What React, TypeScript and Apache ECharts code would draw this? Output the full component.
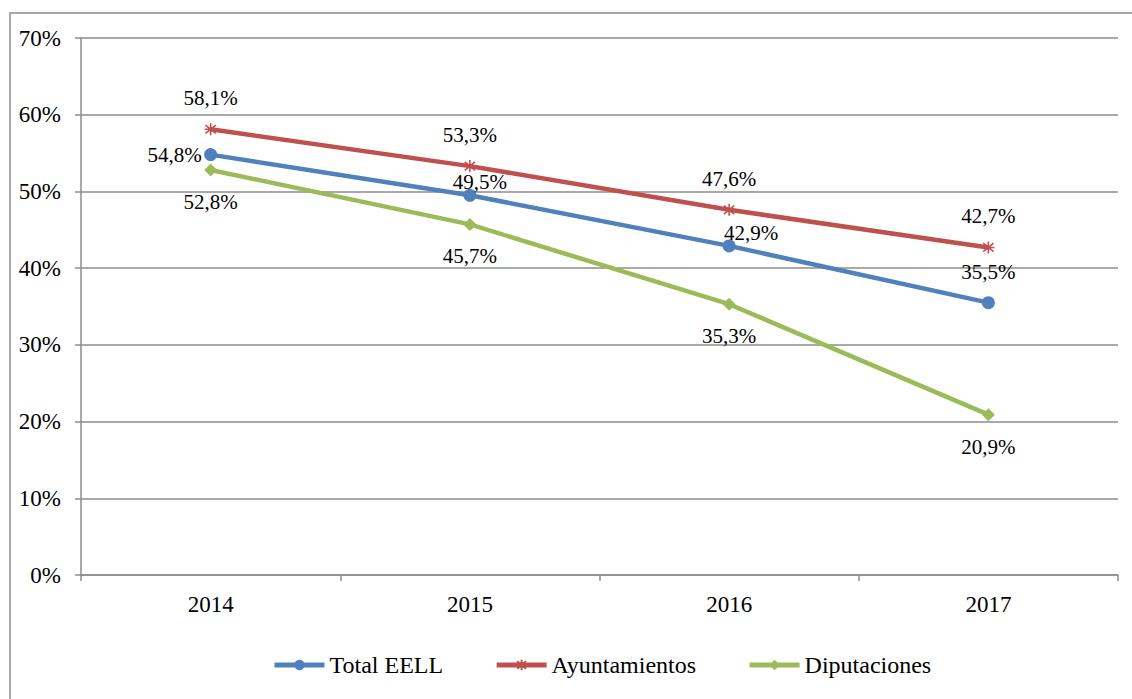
import React, { useEffect, useRef } from "react";
import * as echarts from "echarts";

const years = ["2014", "2015", "2016", "2017"];
const totalEELL = [54.8, 49.5, 42.9, 35.5];
const ayuntamientos = [58.1, 53.3, 47.6, 42.7];
const diputaciones = [52.8, 45.7, 35.3, 20.9];
const totalLabelOffsets = [[-36, 0], [10, -13], [22, -13], [0, -31]];

const FONT = "Liberation Serif";
const BLUE = "#4F81BD";
const RED = "#C0504D";
const GREEN = "#9BBB59";
const GRAY = "#8C8C8C";

const fmt = (v: number) => v.toFixed(1).replace(".", ",") + "%";

export default function App() {
  const ref = useRef<HTMLDivElement>(null);
  useEffect(() => {
    if (!ref.current) return;
    const chart = echarts.init(ref.current, undefined, { renderer: "svg" });
    const labelBase = {
      show: true,
      position: "inside" as const,
      color: "#000",
      fontFamily: FONT,
      fontSize: 21,
      formatter: (p: any) => fmt(p.value),
    };
    chart.setOption({
      animation: false,
      backgroundColor: "#fff",
      textStyle: { fontFamily: FONT },
      graphic: [
        {
          type: "rect",
          shape: { x: 10, y: 13, width: 1300, height: 900 },
          style: { fill: "none", stroke: GRAY, lineWidth: 1.5 },
          silent: true,
        },
      ],
      grid: { left: 81, right: 14, top: 38, bottom: 124, containLabel: false },
      legend: {
        top: 653,
        left: 272,
        padding: 0,
        itemWidth: 50,
        itemHeight: 13,
        itemGap: 51,
        lineStyle: { width: 5 },
        textStyle: { fontFamily: FONT, fontSize: 24, color: "#000" },
        data: ["Total EELL", "Ayuntamientos", "Diputaciones"],
      },
      xAxis: {
        type: "category",
        data: years,
        boundaryGap: true,
        axisLine: { lineStyle: { color: GRAY, width: 1.5 } },
        axisTick: { show: true, length: 6, lineStyle: { color: GRAY, width: 1.5 } },
        axisLabel: { color: "#000", fontFamily: FONT, fontSize: 23, margin: 18 },
      },
      yAxis: {
        type: "value",
        min: 0,
        max: 70,
        interval: 10,
        axisLine: { show: true, lineStyle: { color: GRAY, width: 1.5 } },
        axisTick: { show: true, length: 6, lineStyle: { color: GRAY, width: 1.5 } },
        splitLine: { show: true, lineStyle: { color: GRAY, width: 1.5 } },
        axisLabel: {
          color: "#000",
          fontFamily: FONT,
          fontSize: 23,
          margin: 20,
          formatter: (v: number) => v + "%",
        },
      },
      series: [
        {
          name: "Total EELL",
          type: "line",
          data: totalEELL.map((v, i) => ({
            value: v,
            label: { offset: totalLabelOffsets[i] },
          })),
          symbol: "circle",
          symbolSize: 13,
          lineStyle: { color: BLUE, width: 4.5 },
          itemStyle: { color: BLUE, borderWidth: 0 },
          label: labelBase,
          z: 3,
        },
        {
          name: "Ayuntamientos",
          type: "line",
          data: ayuntamientos,
          symbol: "path://M5,0L5,10M0.7,1.5L9.3,8.5M0.7,8.5L9.3,1.5M0,5L10,5",
          symbolSize: 12,
          lineStyle: { color: RED, width: 4.5 },
          itemStyle: { color: RED, borderColor: RED, borderWidth: 1.6 },
          label: { ...labelBase, offset: [0, -31] },
          z: 2,
        },
        {
          name: "Diputaciones",
          type: "line",
          data: diputaciones,
          symbol: "diamond",
          symbolSize: 13,
          lineStyle: { color: GREEN, width: 4.5 },
          itemStyle: { color: GREEN, borderWidth: 0 },
          label: { ...labelBase, offset: [0, 32] },
          z: 1,
        },
      ],
    });
    return () => chart.dispose();
  }, []);
  return (
    <div
      ref={ref}
      style={{ position: "fixed", left: 0, top: 0, width: 1132, height: 699 }}
    />
  );
}
